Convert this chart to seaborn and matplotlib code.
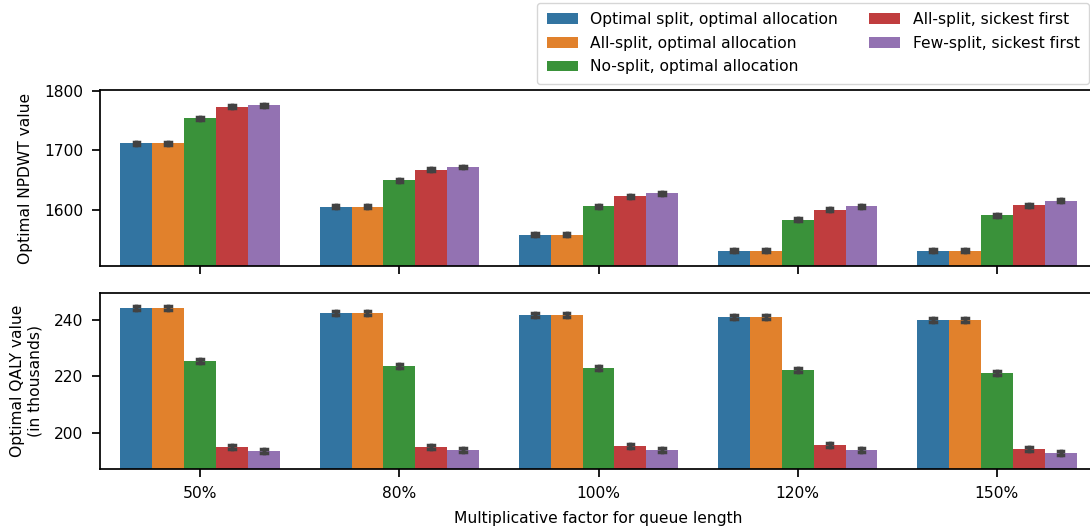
import pandas as pd
import matplotlib
matplotlib.use('Agg')
import matplotlib.pyplot as plt
import seaborn as sns

# Categorias e métodos
factors = ['50%', '80%', '100%', '120%', '150%']
methods = ['Optimal split, optimal allocation', 'All-split, optimal allocation',
           'No-split, optimal allocation', 'All-split, sickest first', 'Few-split, sickest first']

# NPDWT por método
npdwt_opt_split = [1712, 1605, 1558, 1531, 1531]
npdwt_all_split = [1712, 1605, 1558, 1531, 1531]
npdwt_no_split = [1754, 1650, 1606, 1583, 1591]
npdwt_all_sickest = [1773, 1667, 1623, 1600, 1608]
npdwt_few_sickest = [1776, 1672, 1628, 1606, 1615]
npdwt_err = 2.5

# QALY (em milhares) por método
qaly_opt_split = [244.1, 242.4, 241.7, 241.0, 239.9]
qaly_all_split = [244.1, 242.4, 241.7, 241.0, 239.9]
qaly_no_split = [225.5, 223.7, 223.0, 222.3, 221.2]
qaly_all_sickest = [195.2, 195.2, 195.5, 195.9, 194.5]
qaly_few_sickest = [193.8, 194.1, 194.1, 194.1, 193.1]
qaly_err = 0.8

npdwt = [npdwt_opt_split, npdwt_all_split, npdwt_no_split, npdwt_all_sickest, npdwt_few_sickest]
qaly = [qaly_opt_split, qaly_all_split, qaly_no_split, qaly_all_sickest, qaly_few_sickest]

# Monta dataframe longo com duas réplicas (limites do intervalo) por barra
rows = []
for m, method in enumerate(methods):
    for f, factor in enumerate(factors):
        for s in (-1, 1):
            rows.append({'factor': factor, 'method': method,
                         'npdwt': npdwt[m][f] + s * npdwt_err,
                         'qaly': qaly[m][f] + s * qaly_err})
df = pd.DataFrame(rows)

sns.set_context('notebook')
plt.rcParams['font.family'] = ['DejaVu Sans']
plt.rcParams['axes.labelsize'] = 11.2
plt.rcParams['xtick.labelsize'] = 11.2
plt.rcParams['ytick.labelsize'] = 11.2
plt.rcParams['xtick.major.pad'] = 6.5
plt.rcParams['ytick.major.pad'] = 6.5

fig = plt.figure(figsize=(10.9, 5.31), dpi=100)
ax1 = fig.add_axes([0.0922, 0.4996, 0.9138, 0.3304])
ax2 = fig.add_axes([0.0922, 0.1168, 0.9138, 0.3320], sharex=ax1)

bar_kws = dict(x='factor', hue='method', data=df, order=factors, hue_order=methods,
               palette='tab10', linewidth=0,
               errorbar=('pi', 100), capsize=0.14, err_kws={'linewidth': 2.5, 'color': '.26'})
sns.barplot(ax=ax1, y='npdwt', **bar_kws)
sns.barplot(ax=ax2, y='qaly', **bar_kws)

ax1.set_ylim(1506, 1801)
ax1.set_yticks([1600, 1700, 1800])
ax1.set_ylabel('Optimal NPDWT value', labelpad=8)
ax1.set_xlabel('')
ax1.tick_params(axis='x', labelbottom=False)

ax2.set_ylim(187.4, 249.5)
ax2.set_yticks([200, 220, 240])
ax2.set_ylabel('Optimal QALY value\n(in thousands)', labelpad=8)
ax2.set_xlabel('Multiplicative factor for queue length', labelpad=7)

handles, labels = ax1.get_legend_handles_labels()
ax1.get_legend().remove()
ax2.get_legend().remove()
fig.legend(handles, labels, ncol=2, loc='upper right', fontsize=11.2, borderaxespad=0,
           borderpad=0.6, labelspacing=0.55,
           bbox_to_anchor=(1089 / 1090, 1 - 3 / 531))

fig.savefig('out.png', dpi=100)
